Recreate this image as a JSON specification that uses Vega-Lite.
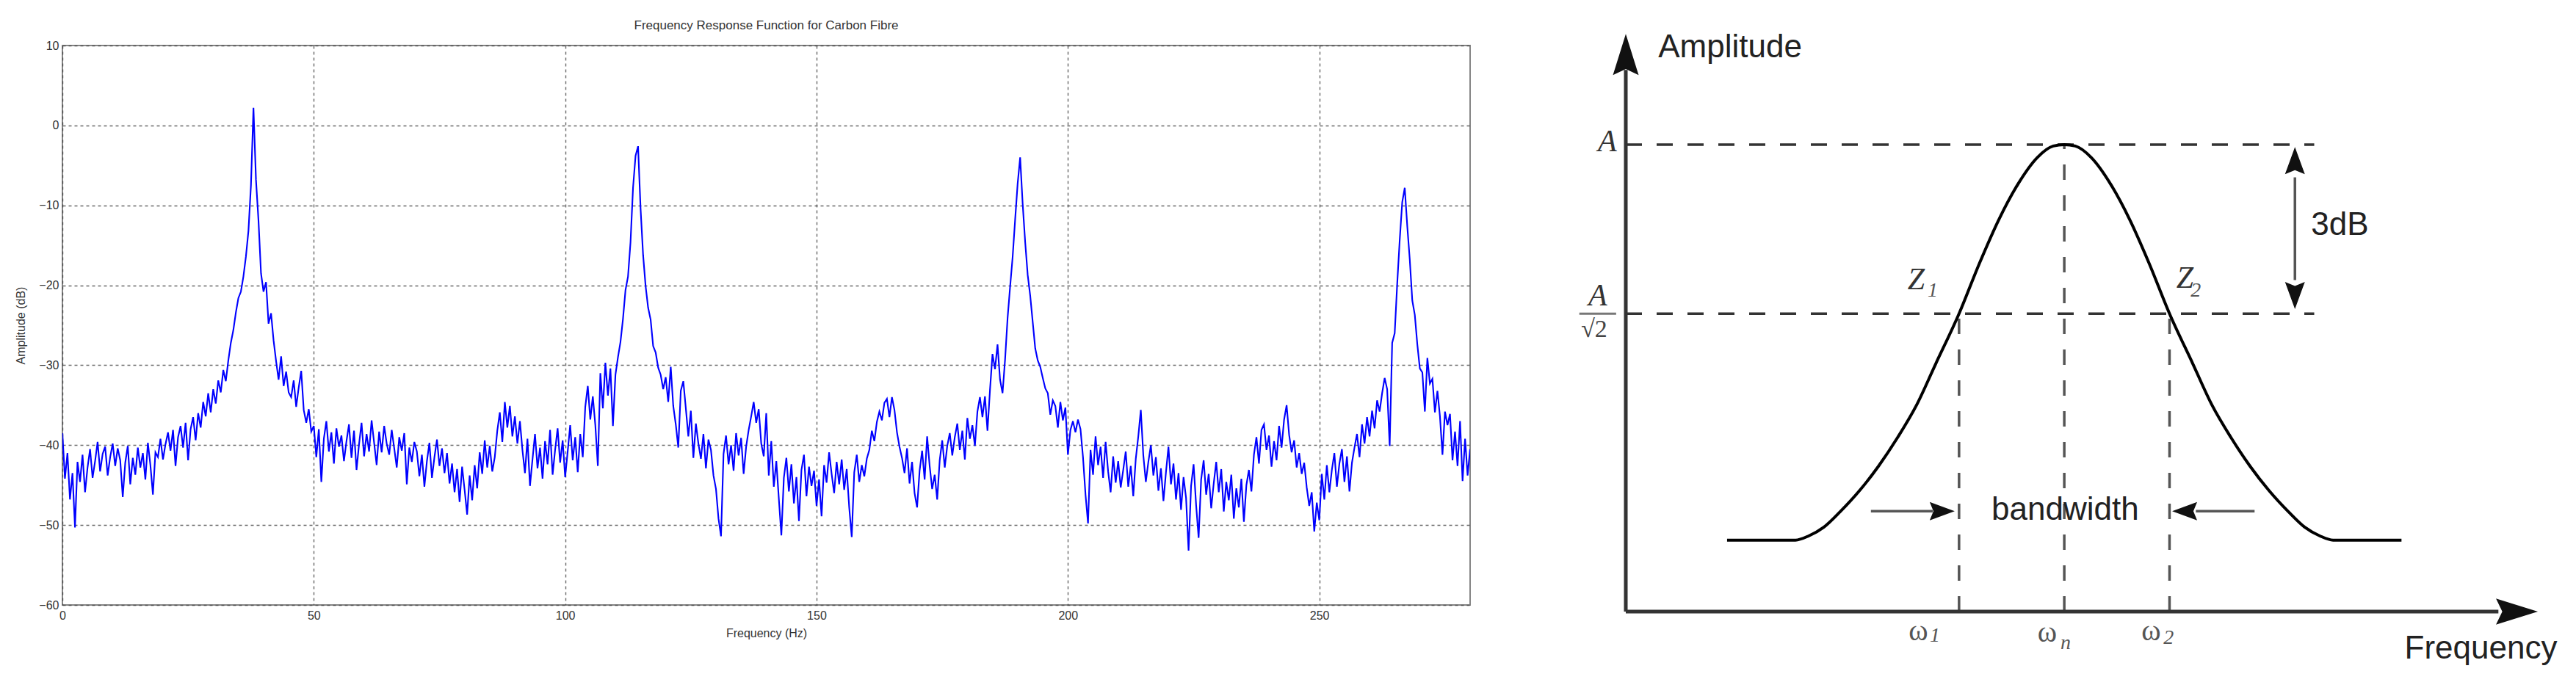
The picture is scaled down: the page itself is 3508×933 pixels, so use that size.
{
"$schema": "https://vega.github.io/schema/vega-lite/v6.json",
"background": "white",
"padding": {"left": 19, "top": 25, "right": 0, "bottom": 0},
"bounds": "flush",
"spacing": 212,
"config": {"font": "Liberation Sans", "view": {"stroke": null}},
"datasets": {
"frf": [
{"hz":0,"db":-38.5},{"hz":0.5,"db":-44.2},{"hz":1,"db":-41.0},{"hz":1.5,"db":-46.8},{"hz":2,"db":-43.5},{"hz":2.5,"db":-50.3},{"hz":3,"db":-42.1},{"hz":3.5,"db":-44.6},{"hz":4,"db":-41.2},{"hz":4.5,"db":-45.9},
{"hz":5,"db":-42.8},{"hz":5.5,"db":-40.5},{"hz":6,"db":-44.1},{"hz":6.5,"db":-42.0},{"hz":7,"db":-39.6},{"hz":7.5,"db":-43.3},{"hz":8,"db":-41.1},{"hz":8.5,"db":-40.2},{"hz":9,"db":-43.8},{"hz":9.5,"db":-41.5},
{"hz":10,"db":-39.8},{"hz":10.5,"db":-42.6},{"hz":11,"db":-40.4},{"hz":11.5,"db":-41.9},{"hz":12,"db":-46.5},{"hz":12.5,"db":-42.2},{"hz":13,"db":-40.1},{"hz":13.5,"db":-44.9},{"hz":14,"db":-41.6},{"hz":14.5,"db":-43.7},
{"hz":15,"db":-40.3},{"hz":15.5,"db":-42.8},{"hz":16,"db":-41.0},{"hz":16.5,"db":-44.3},{"hz":17,"db":-39.7},{"hz":17.5,"db":-42.5},{"hz":18,"db":-46.2},{"hz":18.5,"db":-40.9},{"hz":19,"db":-41.5},{"hz":19.5,"db":-39.2},
{"hz":20,"db":-41.8},{"hz":20.5,"db":-39.9},{"hz":21,"db":-38.4},{"hz":21.5,"db":-40.7},{"hz":22,"db":-38.1},{"hz":22.5,"db":-42.6},{"hz":23,"db":-39.0},{"hz":23.5,"db":-37.6},{"hz":24,"db":-40.3},{"hz":24.5,"db":-37.2},
{"hz":25,"db":-41.9},{"hz":25.5,"db":-38.0},{"hz":26,"db":-36.5},{"hz":26.5,"db":-39.4},{"hz":27,"db":-36.0},{"hz":27.5,"db":-37.8},{"hz":28,"db":-34.6},{"hz":28.5,"db":-36.4},{"hz":29,"db":-33.5},{"hz":29.5,"db":-35.9},
{"hz":30,"db":-33.0},{"hz":30.5,"db":-34.8},{"hz":31,"db":-31.9},{"hz":31.5,"db":-33.4},{"hz":32,"db":-30.6},{"hz":32.5,"db":-32.0},{"hz":33,"db":-29.4},{"hz":33.5,"db":-27.2},{"hz":34,"db":-25.6},{"hz":34.5,"db":-23.4},
{"hz":35,"db":-21.6},{"hz":35.5,"db":-20.8},{"hz":36,"db":-18.9},{"hz":36.5,"db":-16.4},{"hz":37,"db":-13.2},{"hz":37.5,"db":-7.5},{"hz":38,"db":2.2},{"hz":38.5,"db":-6.8},{"hz":39,"db":-11.9},{"hz":39.5,"db":-18.5},
{"hz":40,"db":-20.8},{"hz":40.5,"db":-19.6},{"hz":41,"db":-24.8},{"hz":41.5,"db":-23.5},{"hz":42,"db":-26.9},{"hz":42.5,"db":-29.5},{"hz":43,"db":-31.8},{"hz":43.5,"db":-28.9},{"hz":44,"db":-32.6},{"hz":44.5,"db":-30.8},
{"hz":45,"db":-33.4},{"hz":45.5,"db":-34.0},{"hz":46,"db":-31.9},{"hz":46.5,"db":-35.2},{"hz":47,"db":-32.8},{"hz":47.5,"db":-30.7},{"hz":48,"db":-35.6},{"hz":48.5,"db":-37.2},{"hz":49,"db":-35.5},{"hz":49.5,"db":-38.3},
{"hz":50,"db":-37.6},{"hz":50.5,"db":-41.5},{"hz":51,"db":-38.0},{"hz":51.5,"db":-44.6},{"hz":52,"db":-39.2},{"hz":52.5,"db":-37.0},{"hz":53,"db":-40.8},{"hz":53.5,"db":-38.4},{"hz":54,"db":-42.3},{"hz":54.5,"db":-37.9},
{"hz":55,"db":-40.2},{"hz":55.5,"db":-38.8},{"hz":56,"db":-42.0},{"hz":56.5,"db":-39.5},{"hz":57,"db":-37.4},{"hz":57.5,"db":-41.6},{"hz":58,"db":-38.2},{"hz":58.5,"db":-43.1},{"hz":59,"db":-39.9},{"hz":59.5,"db":-37.2},
{"hz":60,"db":-41.4},{"hz":60.5,"db":-38.6},{"hz":61,"db":-40.8},{"hz":61.5,"db":-36.9},{"hz":62,"db":-39.7},{"hz":62.5,"db":-42.5},{"hz":63,"db":-38.3},{"hz":63.5,"db":-40.9},{"hz":64,"db":-37.6},{"hz":64.5,"db":-39.8},
{"hz":65,"db":-41.2},{"hz":65.5,"db":-38.1},{"hz":66,"db":-40.4},{"hz":66.5,"db":-42.8},{"hz":67,"db":-39.0},{"hz":67.5,"db":-40.7},{"hz":68,"db":-38.5},{"hz":68.5,"db":-44.9},{"hz":69,"db":-40.3},{"hz":69.5,"db":-42.1},
{"hz":70,"db":-39.6},{"hz":70.5,"db":-40.8},{"hz":71,"db":-43.9},{"hz":71.5,"db":-41.2},{"hz":72,"db":-45.2},{"hz":72.5,"db":-42.0},{"hz":73,"db":-39.7},{"hz":73.5,"db":-44.1},{"hz":74,"db":-41.5},{"hz":74.5,"db":-39.3},
{"hz":75,"db":-42.6},{"hz":75.5,"db":-40.4},{"hz":76,"db":-43.5},{"hz":76.5,"db":-41.0},{"hz":77,"db":-44.8},{"hz":77.5,"db":-42.3},{"hz":78,"db":-45.9},{"hz":78.5,"db":-43.0},{"hz":79,"db":-47.1},{"hz":79.5,"db":-42.7},
{"hz":80,"db":-45.6},{"hz":80.5,"db":-48.7},{"hz":81,"db":-43.8},{"hz":81.5,"db":-46.9},{"hz":82,"db":-42.5},{"hz":82.5,"db":-45.4},{"hz":83,"db":-40.9},{"hz":83.5,"db":-43.6},{"hz":84,"db":-39.4},{"hz":84.5,"db":-42.8},
{"hz":85,"db":-40.1},{"hz":85.5,"db":-43.3},{"hz":86,"db":-41.5},{"hz":86.5,"db":-38.2},{"hz":87,"db":-35.9},{"hz":87.5,"db":-39.6},{"hz":88,"db":-34.6},{"hz":88.5,"db":-37.8},{"hz":89,"db":-35.1},{"hz":89.5,"db":-38.9},
{"hz":90,"db":-36.4},{"hz":90.5,"db":-39.8},{"hz":91,"db":-37.0},{"hz":91.5,"db":-40.6},{"hz":92,"db":-43.5},{"hz":92.5,"db":-39.2},{"hz":93,"db":-45.1},{"hz":93.5,"db":-41.8},{"hz":94,"db":-38.6},{"hz":94.5,"db":-42.9},
{"hz":95,"db":-40.3},{"hz":95.5,"db":-44.2},{"hz":96,"db":-39.5},{"hz":96.5,"db":-42.4},{"hz":97,"db":-38.1},{"hz":97.5,"db":-43.7},{"hz":98,"db":-40.6},{"hz":98.5,"db":-37.9},{"hz":99,"db":-42.2},{"hz":99.5,"db":-39.4},
{"hz":100,"db":-44.0},{"hz":100.5,"db":-40.8},{"hz":101,"db":-37.5},{"hz":101.5,"db":-41.9},{"hz":102,"db":-39.0},{"hz":102.5,"db":-43.4},{"hz":103,"db":-38.6},{"hz":103.5,"db":-41.5},{"hz":104,"db":-35.2},{"hz":104.5,"db":-32.6},
{"hz":105,"db":-36.8},{"hz":105.5,"db":-33.9},{"hz":106,"db":-37.5},{"hz":106.5,"db":-42.6},{"hz":107,"db":-31.0},{"hz":107.5,"db":-35.4},{"hz":108,"db":-29.7},{"hz":108.5,"db":-33.8},{"hz":109,"db":-30.4},{"hz":109.5,"db":-37.6},
{"hz":110,"db":-31.2},{"hz":110.5,"db":-29.0},{"hz":111,"db":-27.1},{"hz":111.5,"db":-24.2},{"hz":112,"db":-20.6},{"hz":112.5,"db":-18.9},{"hz":113,"db":-14.6},{"hz":113.5,"db":-7.8},{"hz":114,"db":-3.8},{"hz":114.5,"db":-2.6},
{"hz":115,"db":-10.4},{"hz":115.5,"db":-16.2},{"hz":116,"db":-20.1},{"hz":116.5,"db":-22.8},{"hz":117,"db":-24.3},{"hz":117.5,"db":-27.6},{"hz":118,"db":-28.4},{"hz":118.5,"db":-30.3},{"hz":119,"db":-31.2},{"hz":119.5,"db":-33.0},
{"hz":120,"db":-31.5},{"hz":120.5,"db":-34.6},{"hz":121,"db":-30.2},{"hz":121.5,"db":-35.1},{"hz":122,"db":-37.4},{"hz":122.5,"db":-40.3},{"hz":123,"db":-33.2},{"hz":123.5,"db":-32.0},{"hz":124,"db":-35.4},{"hz":124.5,"db":-38.9},
{"hz":125,"db":-35.7},{"hz":125.5,"db":-41.6},{"hz":126,"db":-37.3},{"hz":126.5,"db":-39.8},{"hz":127,"db":-41.7},{"hz":127.5,"db":-38.6},{"hz":128,"db":-42.9},{"hz":128.5,"db":-39.3},{"hz":129,"db":-40.6},{"hz":129.5,"db":-43.8},
{"hz":130,"db":-45.5},{"hz":130.5,"db":-49.2},{"hz":131,"db":-51.4},{"hz":131.5,"db":-41.1},{"hz":132,"db":-38.8},{"hz":132.5,"db":-42.4},{"hz":133,"db":-40.0},{"hz":133.5,"db":-43.2},{"hz":134,"db":-38.5},{"hz":134.5,"db":-41.3},
{"hz":135,"db":-39.1},{"hz":135.5,"db":-43.6},{"hz":136,"db":-40.2},{"hz":136.5,"db":-38.1},{"hz":137,"db":-36.4},{"hz":137.5,"db":-34.6},{"hz":138,"db":-37.2},{"hz":138.5,"db":-35.5},{"hz":139,"db":-39.8},{"hz":139.5,"db":-41.4},
{"hz":140,"db":-36.0},{"hz":140.5,"db":-43.8},{"hz":141,"db":-39.5},{"hz":141.5,"db":-45.2},{"hz":142,"db":-42.0},{"hz":142.5,"db":-46.7},{"hz":143,"db":-51.3},{"hz":143.5,"db":-44.1},{"hz":144,"db":-41.6},{"hz":144.5,"db":-45.8},
{"hz":145,"db":-42.4},{"hz":145.5,"db":-47.3},{"hz":146,"db":-44.0},{"hz":146.5,"db":-49.5},{"hz":147,"db":-43.1},{"hz":147.5,"db":-41.2},{"hz":148,"db":-46.4},{"hz":148.5,"db":-42.7},{"hz":149,"db":-45.1},{"hz":149.5,"db":-43.2},
{"hz":150,"db":-47.6},{"hz":150.5,"db":-44.3},{"hz":151,"db":-48.9},{"hz":151.5,"db":-42.5},{"hz":152,"db":-44.7},{"hz":152.5,"db":-40.9},{"hz":153,"db":-43.6},{"hz":153.5,"db":-46.0},{"hz":154,"db":-42.1},{"hz":154.5,"db":-44.9},
{"hz":155,"db":-41.8},{"hz":155.5,"db":-45.6},{"hz":156,"db":-43.0},{"hz":156.5,"db":-47.8},{"hz":157,"db":-51.5},{"hz":157.5,"db":-43.4},{"hz":158,"db":-41.2},{"hz":158.5,"db":-44.6},{"hz":159,"db":-42.5},{"hz":159.5,"db":-43.9},
{"hz":160,"db":-41.7},{"hz":160.5,"db":-40.6},{"hz":161,"db":-38.2},{"hz":161.5,"db":-39.5},{"hz":162,"db":-37.1},{"hz":162.5,"db":-35.8},{"hz":163,"db":-36.9},{"hz":163.5,"db":-34.7},{"hz":164,"db":-34.2},{"hz":164.5,"db":-36.5},
{"hz":165,"db":-34.0},{"hz":165.5,"db":-35.6},{"hz":166,"db":-38.4},{"hz":166.5,"db":-40.2},{"hz":167,"db":-41.6},{"hz":167.5,"db":-43.5},{"hz":168,"db":-40.4},{"hz":168.5,"db":-44.8},{"hz":169,"db":-42.1},{"hz":169.5,"db":-46.0},
{"hz":170,"db":-47.8},{"hz":170.5,"db":-43.2},{"hz":171,"db":-40.7},{"hz":171.5,"db":-44.3},{"hz":172,"db":-38.9},{"hz":172.5,"db":-42.6},{"hz":173,"db":-45.5},{"hz":173.5,"db":-43.7},{"hz":174,"db":-46.8},{"hz":174.5,"db":-41.9},
{"hz":175,"db":-39.4},{"hz":175.5,"db":-42.8},{"hz":176,"db":-40.1},{"hz":176.5,"db":-38.5},{"hz":177,"db":-41.3},{"hz":177.5,"db":-39.0},{"hz":178,"db":-37.3},{"hz":178.5,"db":-40.6},{"hz":179,"db":-38.2},{"hz":179.5,"db":-41.8},
{"hz":180,"db":-36.6},{"hz":180.5,"db":-39.2},{"hz":181,"db":-37.5},{"hz":181.5,"db":-40.1},{"hz":182,"db":-35.8},{"hz":182.5,"db":-34.0},{"hz":183,"db":-36.5},{"hz":183.5,"db":-33.9},{"hz":184,"db":-38.2},{"hz":184.5,"db":-33.1},
{"hz":185,"db":-28.6},{"hz":185.5,"db":-30.5},{"hz":186,"db":-27.4},{"hz":186.5,"db":-31.8},{"hz":187,"db":-33.5},{"hz":187.5,"db":-29.3},{"hz":188,"db":-24.1},{"hz":188.5,"db":-20.2},{"hz":189,"db":-16.5},{"hz":189.5,"db":-11.8},
{"hz":190,"db":-7.3},{"hz":190.5,"db":-4.0},{"hz":191,"db":-9.8},{"hz":191.5,"db":-14.6},{"hz":192,"db":-18.7},{"hz":192.5,"db":-21.3},{"hz":193,"db":-24.6},{"hz":193.5,"db":-27.9},{"hz":194,"db":-29.4},{"hz":194.5,"db":-30.2},
{"hz":195,"db":-31.6},{"hz":195.5,"db":-32.9},{"hz":196,"db":-33.5},{"hz":196.5,"db":-36.2},{"hz":197,"db":-34.4},{"hz":197.5,"db":-35.1},{"hz":198,"db":-37.8},{"hz":198.5,"db":-34.6},{"hz":199,"db":-36.9},{"hz":199.5,"db":-35.3},
{"hz":200,"db":-41.2},{"hz":200.5,"db":-38.1},{"hz":201,"db":-37.0},{"hz":201.5,"db":-38.4},{"hz":202,"db":-36.8},{"hz":202.5,"db":-38.0},{"hz":203,"db":-41.5},{"hz":203.5,"db":-46.2},{"hz":204,"db":-49.8},{"hz":204.5,"db":-40.6},
{"hz":205,"db":-43.7},{"hz":205.5,"db":-38.9},{"hz":206,"db":-42.5},{"hz":206.5,"db":-40.2},{"hz":207,"db":-44.1},{"hz":207.5,"db":-39.6},{"hz":208,"db":-43.3},{"hz":208.5,"db":-45.9},{"hz":209,"db":-41.4},{"hz":209.5,"db":-44.7},
{"hz":210,"db":-42.0},{"hz":210.5,"db":-45.3},{"hz":211,"db":-43.1},{"hz":211.5,"db":-40.8},{"hz":212,"db":-45.2},{"hz":212.5,"db":-42.6},{"hz":213,"db":-46.4},{"hz":213.5,"db":-41.7},{"hz":214,"db":-38.9},{"hz":214.5,"db":-35.6},
{"hz":215,"db":-41.3},{"hz":215.5,"db":-44.6},{"hz":216,"db":-42.1},{"hz":216.5,"db":-40.0},{"hz":217,"db":-43.8},{"hz":217.5,"db":-41.5},{"hz":218,"db":-45.7},{"hz":218.5,"db":-42.9},{"hz":219,"db":-47.0},{"hz":219.5,"db":-43.4},
{"hz":220,"db":-40.2},{"hz":220.5,"db":-44.9},{"hz":221,"db":-42.3},{"hz":221.5,"db":-46.8},{"hz":222,"db":-43.5},{"hz":222.5,"db":-48.1},{"hz":223,"db":-44.0},{"hz":223.5,"db":-46.6},{"hz":224,"db":-53.2},{"hz":224.5,"db":-45.1},
{"hz":225,"db":-42.4},{"hz":225.5,"db":-47.5},{"hz":226,"db":-51.6},{"hz":226.5,"db":-44.3},{"hz":227,"db":-41.9},{"hz":227.5,"db":-46.2},{"hz":228,"db":-43.6},{"hz":228.5,"db":-47.9},{"hz":229,"db":-44.8},{"hz":229.5,"db":-42.1},
{"hz":230,"db":-45.9},{"hz":230.5,"db":-43.0},{"hz":231,"db":-48.3},{"hz":231.5,"db":-44.6},{"hz":232,"db":-46.9},{"hz":232.5,"db":-43.7},{"hz":233,"db":-49.2},{"hz":233.5,"db":-45.4},{"hz":234,"db":-47.8},{"hz":234.5,"db":-44.2},
{"hz":235,"db":-49.6},{"hz":235.5,"db":-45.0},{"hz":236,"db":-43.1},{"hz":236.5,"db":-45.8},{"hz":237,"db":-41.2},{"hz":237.5,"db":-39.0},{"hz":238,"db":-42.3},{"hz":238.5,"db":-38.1},{"hz":239,"db":-37.4},{"hz":239.5,"db":-40.6},
{"hz":240,"db":-38.8},{"hz":240.5,"db":-42.7},{"hz":241,"db":-39.5},{"hz":241.5,"db":-41.9},{"hz":242,"db":-37.6},{"hz":242.5,"db":-40.3},{"hz":243,"db":-36.8},{"hz":243.5,"db":-35.0},{"hz":244,"db":-38.7},{"hz":244.5,"db":-40.9},
{"hz":245,"db":-39.4},{"hz":245.5,"db":-42.8},{"hz":246,"db":-41.0},{"hz":246.5,"db":-43.6},{"hz":247,"db":-42.2},{"hz":247.5,"db":-45.3},{"hz":248,"db":-47.6},{"hz":248.5,"db":-45.9},{"hz":249,"db":-50.8},{"hz":249.5,"db":-47.2},
{"hz":250,"db":-49.4},{"hz":250.5,"db":-43.6},{"hz":251,"db":-46.8},{"hz":251.5,"db":-42.5},{"hz":252,"db":-45.9},{"hz":252.5,"db":-43.1},{"hz":253,"db":-41.0},{"hz":253.5,"db":-45.2},{"hz":254,"db":-42.3},{"hz":254.5,"db":-40.5},
{"hz":255,"db":-44.6},{"hz":255.5,"db":-41.4},{"hz":256,"db":-45.8},{"hz":256.5,"db":-42.2},{"hz":257,"db":-40.3},{"hz":257.5,"db":-38.6},{"hz":258,"db":-41.5},{"hz":258.5,"db":-37.4},{"hz":259,"db":-39.8},{"hz":259.5,"db":-36.5},
{"hz":260,"db":-38.9},{"hz":260.5,"db":-35.7},{"hz":261,"db":-37.9},{"hz":261.5,"db":-34.4},{"hz":262,"db":-35.8},{"hz":262.5,"db":-33.5},{"hz":263,"db":-31.6},{"hz":263.5,"db":-33.0},{"hz":264,"db":-40.1},{"hz":264.5,"db":-27.2},
{"hz":265,"db":-26.0},{"hz":265.5,"db":-19.8},{"hz":266,"db":-14.3},{"hz":266.5,"db":-9.6},{"hz":267,"db":-7.8},{"hz":267.5,"db":-12.6},{"hz":268,"db":-16.8},{"hz":268.5,"db":-21.9},{"hz":269,"db":-23.7},{"hz":269.5,"db":-27.4},
{"hz":270,"db":-30.4},{"hz":270.5,"db":-30.9},{"hz":271,"db":-35.8},{"hz":271.5,"db":-29.1},{"hz":272,"db":-32.3},{"hz":272.5,"db":-31.7},{"hz":273,"db":-35.9},{"hz":273.5,"db":-33.2},{"hz":274,"db":-36.4},{"hz":274.5,"db":-41.2},
{"hz":275,"db":-35.8},{"hz":275.5,"db":-37.5},{"hz":276,"db":-36.1},{"hz":276.5,"db":-41.9},{"hz":277,"db":-38.3},{"hz":277.5,"db":-42.6},{"hz":278,"db":-37.0},{"hz":278.5,"db":-44.5},{"hz":279,"db":-39.2},{"hz":279.5,"db":-43.8},
{"hz":280,"db":-40.5}
],
"curve": [
{"u":0.231,"v":0.153},{"u":0.387,"v":0.153},{"u":0.417,"v":0.162},{"u":0.452,"v":0.181},{"u":0.489,"v":0.214},{"u":0.533,"v":0.259},{"u":0.576,"v":0.311},{"u":0.620,"v":0.373},{"u":0.663,"v":0.442},{"u":0.707,"v":0.531},{"u":0.760,"v":0.638},{"u":0.807,"v":0.747},{"u":0.851,"v":0.840},{"u":0.894,"v":0.915},{"u":0.938,"v":0.972},{"u":0.975,"v":0.997},{"u":1.0,"v":1.0},{"u":1.025,"v":0.997},{"u":1.062,"v":0.972},{"u":1.106,"v":0.915},{"u":1.149,"v":0.840},{"u":1.193,"v":0.747},{"u":1.240,"v":0.638},{"u":1.293,"v":0.531},{"u":1.337,"v":0.442},{"u":1.380,"v":0.373},{"u":1.424,"v":0.311},{"u":1.467,"v":0.259},{"u":1.511,"v":0.214},{"u":1.548,"v":0.181},{"u":1.583,"v":0.162},{"u":1.613,"v":0.153},{"u":1.769,"v":0.153}
],
"levels": [{"level":"A","u":0,"u2":1.570,"v":1.0},{"level":"A/sqrt2","u":0,"u2":1.570,"v":0.638}],
"drops": [{"at":"w1","u":0.760,"v":0,"v2":0.638},{"at":"wn","u":1.0,"v":0,"v2":1.0},{"at":"w2","u":1.240,"v":0,"v2":0.638}],
"axes": [{"axis":"amplitude","u":0,"v":0,"u2":0,"v2":1.16},{"axis":"frequency","u":0,"v":0,"u2":1.99,"v2":0}],
"shafts": [{"part":"3dB","u":1.526,"v":0.93,"u2":1.526,"v2":0.71},{"part":"bw-left","u":0.559,"v":0.215,"u2":0.70,"v2":0.215},{"part":"bw-right","u":1.30,"v":0.215,"u2":1.434,"v2":0.215}],
"fracbar": [{"u":-0.106,"u2":-0.022,"v":0.638}],
"heads": [{"kind":"axis-up","u":0,"v":1.237},{"kind":"axis-right","u":2.080,"v":0},{"kind":"up","u":1.526,"v":0.995},{"kind":"down","u":1.526,"v":0.648},{"kind":"right","u":0.750,"v":0.215},{"kind":"left","u":1.246,"v":0.215}],
"words": [{"text":"Amplitude","u":0.074,"v":1.208},{"text":"Frequency","u":1.776,"v":-0.080},{"text":"3dB","u":1.563,"v":0.827},{"text":"bandwidth","u":0.834,"v":0.217}],
"symbols": [{"text":"A","u":-0.042,"v":1.006},{"text":"A","u":-0.064,"v":0.676},{"text":"Z","u":0.662,"v":0.711},{"text":"Z","u":1.275,"v":0.714}],
"roots": [{"text":"√2","u":-0.072,"v":0.604}],
"omegas": [{"text":"ω","u":0.667,"v":-0.042},{"text":"ω","u":0.961,"v":-0.046},{"text":"ω","u":1.198,"v":-0.042}],
"subs": [{"text":"1","u":0.700,"v":0.687},{"text":"2","u":1.300,"v":0.687},{"text":"1","u":0.705,"v":-0.052},{"text":"n","u":1.003,"v":-0.068},{"text":"2","u":1.238,"v":-0.057}]
},
"hconcat": [
{
"width": 1917, "height": 762,
"view": {"stroke": "#858585", "strokeWidth": 2},
"title": {"text": "Frequency Response Function for Carbon Fibre", "fontSize": 17, "fontWeight": "normal", "color": "#333", "offset": 10, "font": "Liberation Sans"},
"data": {"name": "frf"},
"mark": {"type": "line", "color": "#0000ff", "strokeWidth": 2.1, "clip": true},
"encoding": {
"x": {"field": "hz", "type": "quantitative", "scale": {"domain": [0, 280], "nice": false, "zero": false},
"axis": {"title": "Frequency (Hz)", "values": [0, 50, 100, 150, 200, 250], "grid": true, "gridDash": [4, 4], "gridColor": "#444", "gridOpacity": 0.8, "gridWidth": 1.4, "ticks": false, "domain": false, "labelFlush": false, "labelPadding": 6, "labelFontSize": 16, "labelColor": "#333", "titleFontSize": 16, "titleFontWeight": "normal", "titleColor": "#333", "titlePadding": 8}},
"y": {"field": "db", "type": "quantitative", "scale": {"domain": [-60, 10], "nice": false, "zero": false},
"axis": {"title": "Amplitude (dB)", "values": [-60, -50, -40, -30, -20, -10, 0, 10], "grid": true, "gridDash": [4, 4], "gridColor": "#444", "gridOpacity": 0.8, "gridWidth": 1.4, "ticks": false, "domain": false, "labelFlush": false, "labelPadding": 5, "labelFontSize": 16, "labelColor": "#333", "titleFontSize": 16, "titleFontWeight": "normal", "titleColor": "#333", "titlePadding": 16}}
}
},
{
"width": 1254, "height": 771,
"view": {"stroke": null},
"encoding": {
"x": {"field": "u", "type": "quantitative", "scale": {"domain": [0, 2.1], "nice": false, "zero": false}, "axis": null},
"y": {"field": "v", "type": "quantitative", "scale": {"domain": [0, 1.2123], "nice": false, "zero": false}, "axis": null}
},
"layer": [
{"data": {"name": "levels"}, "mark": {"type": "rule", "color": "#333", "strokeWidth": 3.5, "strokeDash": [22, 20]}, "encoding": {"x2": {"field": "u2"}}},
{"data": {"name": "drops"}, "mark": {"type": "rule", "color": "#555", "strokeWidth": 3.5, "strokeDash": [21, 21]}, "encoding": {"y2": {"field": "v2"}}},
{"data": {"name": "axes"}, "mark": {"type": "rule", "color": "#333", "strokeWidth": 5}, "encoding": {"x2": {"field": "u2"}, "y2": {"field": "v2"}}},
{"data": {"name": "shafts"}, "mark": {"type": "rule", "color": "#555", "strokeWidth": 3.5}, "encoding": {"x2": {"field": "u2"}, "y2": {"field": "v2"}}},
{"data": {"name": "fracbar"}, "mark": {"type": "rule", "color": "#777", "strokeWidth": 3}, "encoding": {"x2": {"field": "u2"}}},
{"data": {"name": "curve"}, "mark": {"type": "line", "color": "#000", "strokeWidth": 4, "interpolate": "monotone"}},
{"data": {"name": "heads"}, "transform": [{"filter": "datum.kind === 'axis-up'"}], "mark": {"type": "point", "shape": "M0,0L0.625,2L0,1.7L-0.625,2Z", "size": 3136, "filled": true, "color": "#111", "opacity": 1}},
{"data": {"name": "heads"}, "transform": [{"filter": "datum.kind === 'axis-right'"}], "mark": {"type": "point", "shape": "M0,0L-2,-0.625L-1.7,0L-2,0.625Z", "size": 3249, "filled": true, "color": "#111", "opacity": 1}},
{"data": {"name": "heads"}, "transform": [{"filter": "datum.kind === 'up'"}], "mark": {"type": "point", "shape": "M0,0L0.73,2L0,1.7L-0.73,2Z", "size": 1369, "filled": true, "color": "#111", "opacity": 1}},
{"data": {"name": "heads"}, "transform": [{"filter": "datum.kind === 'down'"}], "mark": {"type": "point", "shape": "M0,0L0.73,-2L0,-1.7L-0.73,-2Z", "size": 1369, "filled": true, "color": "#111", "opacity": 1}},
{"data": {"name": "heads"}, "transform": [{"filter": "datum.kind === 'right'"}], "mark": {"type": "point", "shape": "M0,0L-2,-0.735L-1.7,0L-2,0.735Z", "size": 1156, "filled": true, "color": "#111", "opacity": 1}},
{"data": {"name": "heads"}, "transform": [{"filter": "datum.kind === 'left'"}], "mark": {"type": "point", "shape": "M0,0L2,-0.735L1.7,0L2,0.735Z", "size": 1156, "filled": true, "color": "#111", "opacity": 1}},
{"data": {"name": "words"}, "mark": {"type": "text", "font": "Liberation Sans", "fontSize": 44, "color": "#222", "align": "left", "baseline": "middle"}, "encoding": {"text": {"field": "text"}}},
{"data": {"name": "symbols"}, "mark": {"type": "text", "font": "Liberation Serif", "fontStyle": "italic", "fontSize": 42, "color": "#333", "align": "center", "baseline": "middle"}, "encoding": {"text": {"field": "text"}}},
{"data": {"name": "roots"}, "mark": {"type": "text", "font": "Liberation Serif", "fontSize": 34, "color": "#444", "align": "center", "baseline": "middle"}, "encoding": {"text": {"field": "text"}}},
{"data": {"name": "omegas"}, "mark": {"type": "text", "font": "Liberation Serif", "fontSize": 40, "color": "#555", "align": "center", "baseline": "middle"}, "encoding": {"text": {"field": "text"}}},
{"data": {"name": "subs"}, "mark": {"type": "text", "font": "Liberation Serif", "fontStyle": "italic", "fontSize": 28, "color": "#555", "align": "center", "baseline": "middle"}, "encoding": {"text": {"field": "text"}}}
]
}
]
}
